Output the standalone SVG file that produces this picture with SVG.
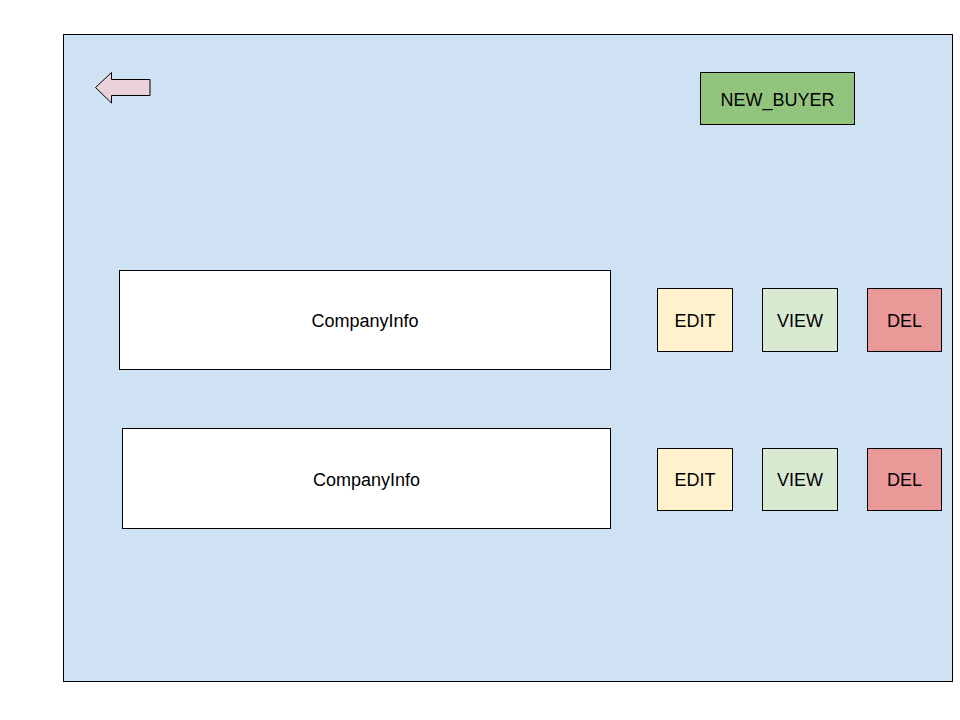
<svg xmlns="http://www.w3.org/2000/svg" width="960" height="720" viewBox="0 0 960 720">
<style>
text{font-family:"Liberation Sans",Arial,sans-serif;font-size:18px;fill:#000;text-anchor:middle;dominant-baseline:central}
.s{stroke:#000;stroke-width:1}
.edit{fill:#fff2cc}.view{fill:#d9ead3}.del{fill:#ea9999}.info{fill:#fff}
</style>
<rect width="960" height="720" fill="#fff"/>
<g id="frame"><rect class="s" x="63.5" y="34.5" width="889" height="647" fill="#cfe2f3"/></g>
<g id="back"><path class="s" d="M95.5 87.5 L111.5 72.5 L111.5 79.5 L150 79.5 L150 95.5 L111.5 95.5 L111.5 103 Z" fill="#ead1dc"/></g>
<g id="new_buyer"><rect class="s" x="700.5" y="72.5" width="154" height="52" fill="#93c47d"/><text x="777.5" y="99.5">NEW_BUYER</text></g>
<g id="info1"><rect class="s info" x="119.5" y="270.5" width="491" height="99"/><text x="365" y="321">CompanyInfo</text></g>
<g id="edit1"><rect class="s edit" x="657.5" y="288.5" width="75" height="63"/><text x="695" y="321">EDIT</text></g>
<g id="view1"><rect class="s view" x="762.5" y="288.5" width="75" height="63"/><text x="800" y="321">VIEW</text></g>
<g id="del1"><rect class="s del" x="867.5" y="288.5" width="74" height="63"/><text x="904.5" y="321">DEL</text></g>
<g id="info2"><rect class="s info" x="122.5" y="428.5" width="488" height="100"/><text x="366.5" y="480">CompanyInfo</text></g>
<g id="edit2"><rect class="s edit" x="657.5" y="448.5" width="75" height="62"/><text x="695" y="480">EDIT</text></g>
<g id="view2"><rect class="s view" x="762.5" y="448.5" width="75" height="62"/><text x="800" y="480">VIEW</text></g>
<g id="del2"><rect class="s del" x="867.5" y="448.5" width="74" height="62"/><text x="904.5" y="480">DEL</text></g>
<g id="connectors"></g>
</svg>
